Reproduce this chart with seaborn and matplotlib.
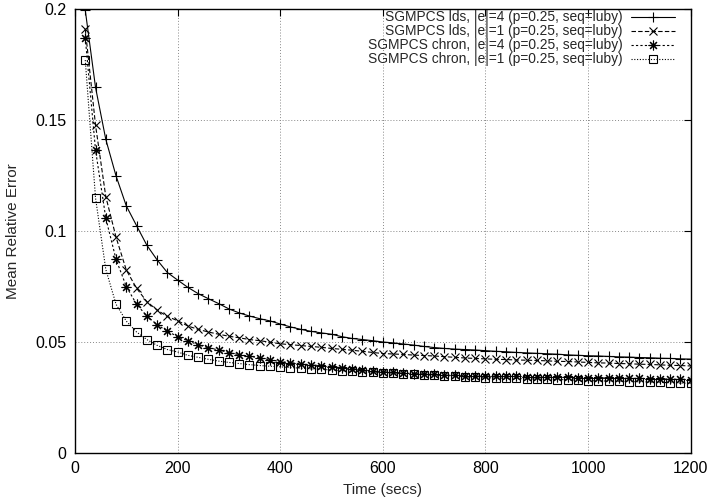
import numpy as np
import pandas as pd
import matplotlib
matplotlib.use("Agg")
import matplotlib.pyplot as plt
import seaborn as sns

time = list(range(20, 1201, 20))

lds_e4 = [0.1995, 0.1647, 0.1413, 0.1248, 0.1113, 0.1024, 0.0936, 0.0870, 0.0813, 0.0779,
          0.0746, 0.0718, 0.0695, 0.0673, 0.0649, 0.0631, 0.0617, 0.0605, 0.0595, 0.0581,
          0.0568, 0.0557, 0.0548, 0.0541, 0.0535, 0.0524, 0.0516, 0.0511, 0.0506, 0.0500,
          0.0496, 0.0491, 0.0486, 0.0480, 0.0475, 0.0471, 0.0468, 0.0466, 0.0464, 0.0461,
          0.0458, 0.0456, 0.0453, 0.0451, 0.0449, 0.0447, 0.0445, 0.0442, 0.0440, 0.0438,
          0.0437, 0.0435, 0.0433, 0.0432, 0.0430, 0.0429, 0.0427, 0.0426, 0.0424, 0.0423]

lds_e1 = [0.1910, 0.1477, 0.1155, 0.0972, 0.0824, 0.0742, 0.0682, 0.0644, 0.0615, 0.0596,
          0.0572, 0.0557, 0.0545, 0.0535, 0.0526, 0.0519, 0.0511, 0.0506, 0.0499, 0.0492,
          0.0488, 0.0484, 0.0480, 0.0476, 0.0471, 0.0467, 0.0463, 0.0458, 0.0453, 0.0448,
          0.0446, 0.0444, 0.0441, 0.0439, 0.0437, 0.0434, 0.0431, 0.0428, 0.0426, 0.0424,
          0.0422, 0.0421, 0.0419, 0.0418, 0.0417, 0.0415, 0.0413, 0.0412, 0.0410, 0.0408,
          0.0406, 0.0405, 0.0403, 0.0402, 0.0400, 0.0399, 0.0397, 0.0395, 0.0394, 0.0392]

chron_e4 = [0.1870, 0.1365, 0.1058, 0.0872, 0.0750, 0.0670, 0.0617, 0.0578, 0.0549, 0.0524,
            0.0506, 0.0487, 0.0474, 0.0464, 0.0452, 0.0443, 0.0436, 0.0428, 0.0420, 0.0412,
            0.0407, 0.0402, 0.0397, 0.0393, 0.0389, 0.0384, 0.0380, 0.0375, 0.0370, 0.0366,
            0.0363, 0.0360, 0.0358, 0.0356, 0.0354, 0.0352, 0.0350, 0.0349, 0.0348, 0.0347,
            0.0346, 0.0346, 0.0345, 0.0344, 0.0343, 0.0342, 0.0341, 0.0341, 0.0340, 0.0339,
            0.0338, 0.0338, 0.0337, 0.0336, 0.0336, 0.0335, 0.0334, 0.0333, 0.0332, 0.0331]

chron_e1 = [0.1770, 0.1149, 0.0827, 0.0670, 0.0594, 0.0545, 0.0511, 0.0485, 0.0466, 0.0455,
            0.0440, 0.0431, 0.0422, 0.0414, 0.0408, 0.0403, 0.0398, 0.0394, 0.0391, 0.0388,
            0.0385, 0.0382, 0.0379, 0.0377, 0.0374, 0.0371, 0.0368, 0.0366, 0.0364, 0.0362,
            0.0360, 0.0358, 0.0355, 0.0353, 0.0350, 0.0348, 0.0346, 0.0343, 0.0341, 0.0339,
            0.0338, 0.0337, 0.0336, 0.0334, 0.0333, 0.0332, 0.0331, 0.0330, 0.0328, 0.0326,
            0.0325, 0.0324, 0.0323, 0.0322, 0.0321, 0.0320, 0.0318, 0.0317, 0.0315, 0.0314]

labels = ["SGMPCS lds, |e|=4 (p=0.25, seq=luby)",
          "SGMPCS lds, |e|=1 (p=0.25, seq=luby)",
          "SGMPCS chron, |e|=4 (p=0.25, seq=luby)",
          "SGMPCS chron, |e|=1 (p=0.25, seq=luby)"]

x_ticks = [0, 200, 400, 600, 800, 1000, 1200]
y_ticks = [0, 0.05, 0.1, 0.15, 0.2]
y_tick_labels = ["0", "0.05", "0.1", "0.15", "0.2"]

sns.set_style("white")
plt.rcParams['font.family'] = ['Liberation Sans', 'DejaVu Sans']

fig = plt.figure(figsize=(7.1, 4.97), dpi=100)
ax = fig.add_axes([75/710, 44/497, 615.7/710, 444/497])

styles = [
    dict(linestyle='-', marker='+', markersize=7, fillstyle='full'),
    dict(linestyle=(0, (4, 2)), marker='x', markersize=6, fillstyle='full'),
    dict(linestyle=(0, (2, 2)), marker=(8, 2, 0), markersize=7, fillstyle='full'),
    dict(linestyle=(0, (1, 1.5)), marker='s', markersize=6, fillstyle='none'),
]
series = [lds_e4, lds_e1, chron_e4, chron_e1]

for vals, lab, st in zip(series, labels, styles):
    df = pd.DataFrame({"Time": time, "Error": vals})
    sns.lineplot(data=df, x="Time", y="Error", ax=ax, color='black', linewidth=0.8,
                 markeredgewidth=0.8, markeredgecolor='black', label=lab,
                 **st)

ax.set_xlim(0, 1200)
ax.set_ylim(0, 0.2)
ax.set_xticks(x_ticks)
ax.set_yticks(y_ticks)
ax.set_yticklabels(y_tick_labels)
ax.tick_params(direction='in', length=5, width=0.8, top=True, right=True,
               labelsize=11.5, colors='black', pad=6)
ax.grid(True, color='#888888', linestyle=(0, (1, 2)), linewidth=0.7)
for sp in ax.spines.values():
    sp.set_color('black')
    sp.set_linewidth(1.0)

ax.set_xlabel("Time (secs)", fontsize=11, labelpad=5)
ax.set_ylabel("Mean Relative Error", fontsize=11, labelpad=11)

leg = ax.legend(loc='upper right', bbox_to_anchor=(0.9745, 0.997), frameon=False,
                markerfirst=False, alignment='right', fontsize=9.9,
                handlelength=3.2, handletextpad=0.6, labelspacing=0.0,
                borderaxespad=0.0, borderpad=0.0)

fig.savefig("out.png", dpi=100)
